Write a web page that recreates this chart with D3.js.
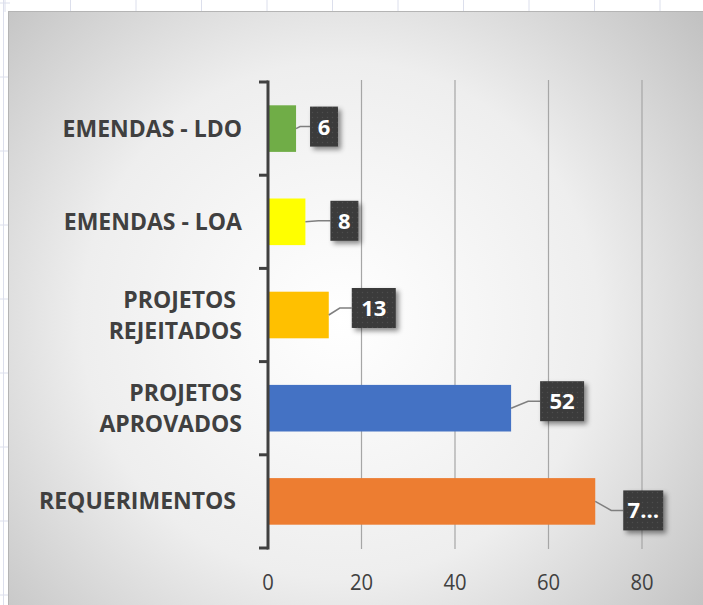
<!DOCTYPE html>
<html>
<head>
<meta charset="utf-8">
<script src="https://cdn.jsdelivr.net/npm/d3@7"></script>
<style>
  html, body { margin: 0; padding: 0; background: #ffffff; overflow: hidden; }
  text { white-space: pre; }
</style>
</head>
<body>
<div id="chart"></div>
<script>
// categories, top to bottom (second line after "|")
const categories = ["EMENDAS - LDO", "EMENDAS - LOA", "PROJETOS |REJEITADOS", "PROJETOS|APROVADOS", "REQUERIMENTOS "];
const values = [6, 8, 13, 52, 70];
const barColors = ["#70ad47", "#ffff00", "#ffc000", "#4472c4", "#ed7d31"];
const xTicks = [0, 20, 40, 60, 80];

const width = 703;
const height = 605;

// where each data label sits relative to the bar end (px)
const labelGap = [14, 25, 23, 29, 28];
const labelDy = [-2, -1, -7, -7, 9];

const svg = d3.select("#chart")
    .append("svg")
    .attr("width", width)
    .attr("height", height);

const defs = svg.append("defs");

// chart background gradient
const grad = defs.append("radialGradient")
    .attr("id", "bg")
    .attr("gradientUnits", "userSpaceOnUse")
    .attr("cx", 340).attr("cy", 320).attr("r", 470);
grad.append("stop").attr("offset", 0).attr("stop-color", "#ffffff");
grad.append("stop").attr("offset", 0.55).attr("stop-color", "#eeeeee");
grad.append("stop").attr("offset", 1).attr("stop-color", "#c2c2c2");

// dotted pattern for the label boxes
const pat = defs.append("pattern")
    .attr("id", "dots")
    .attr("patternUnits", "userSpaceOnUse")
    .attr("width", 5).attr("height", 5);
pat.append("rect").attr("width", 5).attr("height", 5).attr("fill", "#3a3a3a");
pat.append("circle").attr("cx", 2.5).attr("cy", 2.5).attr("r", 0.8).attr("fill", "#4d4d4d");

const shadow = defs.append("filter").attr("id", "shadow")
    .attr("x", "-30%").attr("y", "-30%").attr("width", "170%").attr("height", "170%");
shadow.append("feDropShadow")
    .attr("dx", 3).attr("dy", 3).attr("stdDeviation", 2.5)
    .attr("flood-color", "#000").attr("flood-opacity", 0.45);

// spreadsheet cell lines behind the chart
const sheet = svg.append("g").attr("stroke", "#dcdfec").attr("stroke-width", 1);
d3.range(5, 720, 65.5).forEach(function (x) {
    sheet.append("line").attr("x1", x).attr("x2", x).attr("y1", 0).attr("y2", 12);
});
d3.range(3, 620, 74).forEach(function (y) {
    sheet.append("line").attr("x1", 0).attr("x2", 10).attr("y1", y).attr("y2", y);
});
sheet.append("line").attr("x1", 3.5).attr("x2", 3.5).attr("y1", 0).attr("y2", height);

// chart area
svg.append("rect")
    .attr("x", 8.5).attr("y", 11.5)
    .attr("width", 720).attr("height", 620)
    .attr("fill", "url(#bg)")
    .attr("stroke", "#b4b4b4")
    .attr("stroke-width", 1);

// scales
const x = d3.scaleLinear()
    .domain([0, 80])
    .range([268, 642]);

const y = d3.scaleBand()
    .domain(categories)
    .range([82, 548])
    .paddingInner(0.5)
    .paddingOuter(0.25);

// gridlines
svg.append("g")
    .selectAll("line")
    .data(xTicks.slice(1))
    .enter().append("line")
    .attr("x1", d => x(d)).attr("x2", d => x(d))
    .attr("y1", 80).attr("y2", 549)
    .attr("stroke", "#a6a6a6")
    .attr("stroke-width", 1.2);

// x tick labels
svg.append("g")
    .selectAll("text")
    .data(xTicks)
    .enter().append("text")
    .attr("x", d => x(d))
    .attr("y", 590)
    .attr("text-anchor", "middle")
    .attr("font-family", "Open Sans")
    .attr("font-size", 22)
    .attr("fill", "#404040")
    .attr("transform", d => "translate(" + x(d) + ",0) scale(0.92,1) translate(" + (-x(d)) + ",0)")
    .text(d => d);

// bars
svg.append("g")
    .selectAll("rect")
    .data(values)
    .enter().append("rect")
    .attr("x", x(0))
    .attr("y", (d, i) => y(categories[i]))
    .attr("width", d => x(d) - x(0))
    .attr("height", y.bandwidth())
    .attr("fill", (d, i) => barColors[i]);

// y axis
const yAxis = svg.append("g")
    .attr("transform", "translate(" + x(0) + ",0)")
    .call(d3.axisLeft(y).tickSize(0).tickFormat(""));
yAxis.select(".domain").remove();
yAxis.append("line")
    .attr("x1", 0).attr("x2", 0)
    .attr("y1", y.range()[0] - 1.5).attr("y2", y.range()[1] + 1.5)
    .attr("stroke", "#404040").attr("stroke-width", 3);
const bounds = categories.map(c => y(c) - y.step() * y.paddingOuter()).concat([y.range()[1]]);
yAxis.selectAll(".bound")
    .data(bounds)
    .enter().append("line")
    .attr("class", "bound")
    .attr("x1", -9).attr("x2", 0)
    .attr("y1", d => d).attr("y2", d => d)
    .attr("stroke", "#404040").attr("stroke-width", 3);

// category labels
const catLabels = svg.append("g");
categories.forEach(function (c, i) {
    const lines = c.split("|");
    const cy = y(c) + y.bandwidth() / 2;
    const lh = 31;
    const t = catLabels.append("text")
        .attr("text-anchor", "end")
        .attr("font-family", "Open Sans")
        .attr("font-weight", 700)
        .attr("font-size", 23)
        .attr("fill", "#404040");
    lines.forEach(function (ln, k) {
        t.append("tspan")
            .attr("x", 242)
            .attr("y", cy + (k - (lines.length - 1) / 2) * lh + 8)
            .text(ln);
    });
});

// data labels
const boxH = 40;
const labels = svg.append("g");
values.forEach(function (v, i) {
    const by = y(categories[i]) + y.bandwidth() / 2;
    const bx = x(v) + labelGap[i];
    let txt = String(v);
    let bw = txt.length === 1 ? 28 : 44;
    if (bx + bw > 660) { txt = txt[0] + "\u2026"; bw = 40; }
    const cy = by + labelDy[i];
    labels.append("polyline")
        .attr("points", [[x(v), by], [bx - Math.min(12, labelGap[i] - 4), cy], [bx, cy]].map(p => p.join(",")).join(" "))
        .attr("fill", "none")
        .attr("stroke", "#7f7f7f")
        .attr("stroke-width", 1.5);
    labels.append("rect")
        .attr("x", bx).attr("y", cy - boxH / 2)
        .attr("width", bw).attr("height", boxH)
        .attr("fill", "url(#dots)")
        .attr("filter", "url(#shadow)");
    labels.append("text")
        .attr("x", bx + bw / 2)
        .attr("y", cy + 8)
        .attr("text-anchor", "middle")
        .attr("font-family", "Open Sans")
        .attr("font-weight", 700)
        .attr("font-size", 22)
        .attr("fill", "#ffffff")
        .text(txt);
});
</script>
</body>
</html>
